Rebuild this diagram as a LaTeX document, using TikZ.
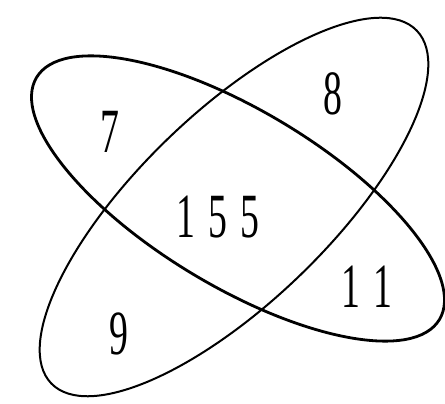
\documentclass[tikz,border=0pt]{standalone}
\usepackage{fontspec}
\newfontfamily\narrowserif[FakeStretch=0.6]{Liberation Serif}
\begin{document}
\begin{tikzpicture}[x=1pt,y=1pt,
  setA/.style={line width=2.8pt},
  setB/.style={line width=2pt},
  lab/.style={font={\narrowserif\fontsize{63}{63}\selectfont\spaceskip=13pt\relax}, inner sep=0pt, anchor=base}]
\useasboundingbox (0,0) rectangle (445,404);
% ellipse from upper-left to lower-right
\draw[setA, rotate around={-31:(238,205.5)}] (238,205.5) ellipse [x radius=235, y radius=88];
% ellipse from lower-left to upper-right
\draw[setB, rotate around={44:(234,197)}] (234,197) ellipse [x radius=254, y radius=95];
\node[lab] (n7) at (110,{404-153}) {7};
\node[lab] (n8) at (333,{404-115}) {8};
\node[lab] (n155) at (218,{404-238}) {1 5 5};
\node[lab] (n11) at (367,{404-308}) {1 1};
\node[lab] (n9) at (119,{404-355}) {9};
\end{tikzpicture}
\end{document}
